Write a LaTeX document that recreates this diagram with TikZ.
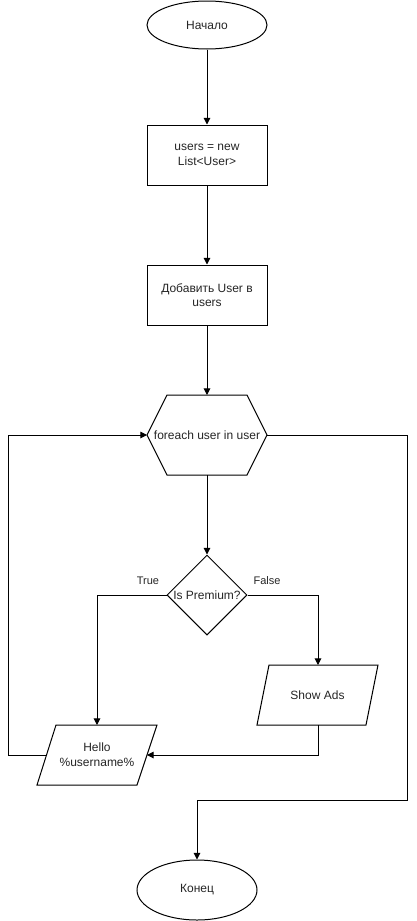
\documentclass[tikz,border=0pt]{standalone}
\usepackage{fontspec}
\setmainfont{Liberation Sans}
\usetikzlibrary{shapes.geometric,arrows.meta}
\begin{document}
\begin{tikzpicture}[x=0.75pt,y=-0.75pt,
  outline/.style={draw=black, line width=0.75pt},
  boxtext/.style={font=\fontsize{9}{11}\selectfont, align=center, text=black!85},
  edgetext/.style={font=\fontsize{8.25}{10}\selectfont, text=black!85},
  flow/.style={draw=black, line width=0.75pt, -{Triangle[length=5pt,width=5pt]}}]
\useasboundingbox (0,0) rectangle (417,921);
\fill[white] (0,0) rectangle (417,921);

% start / end terminals
\node[ellipse, outline, minimum width=90pt, minimum height=36pt, inner sep=0pt, boxtext] (start) at (207,25) {Начало};
\node[ellipse, outline, minimum width=90pt, minimum height=45pt, inner sep=0pt, boxtext] (stop) at (197,890) {Конец};

% process steps
\node[rectangle, outline, minimum width=90pt, minimum height=45pt, boxtext] (init) at (207,155) {users = new\\List<User>};
\node[rectangle, outline, minimum width=90pt, minimum height=45pt, boxtext] (add) at (207,295) {Добавить User в\\users};

% loop header (hexagon)
\draw[outline] (147,435) -- (167,395) -- (247,395) -- (267,435) -- (247,475) -- (167,475) -- cycle;
\node[boxtext] (loop) at (207,435) {foreach user in user};
\coordinate (loopN) at (207,395);
\coordinate (loopS) at (207,475);
\coordinate (loopW) at (147,435);
\coordinate (loopE) at (267,435);

% decision
\node[diamond, outline, minimum width=60pt, minimum height=60pt, inner sep=0pt] (dec) at (207,595) {};
\node[boxtext] (dectext) at (dec.center) {Is Premium?};

% output blocks (parallelograms)
\draw[outline] (269,665) -- (378,665) -- (366,725) -- (257,725) -- cycle;
\node[boxtext] (ads) at (317.5,695) {Show Ads};
\coordinate (adsN) at (318,665);
\coordinate (adsS) at (318,725);

\draw[outline] (56,725) -- (157,725) -- (137,785) -- (37,785) -- cycle;
\node[boxtext] (hello) at (97,755) {Hello\\\%username\%};
\coordinate (helloN) at (97,725);
\coordinate (helloE) at (147,755);
\coordinate (helloW) at (46.5,755);

% bend points of the outer connectors
\coordinate (backL) at (8,755);
\coordinate (exitR) at (407,435);
\coordinate (exitB) at (407,800);

% connectors
\draw[flow] (start) -- (init);
\draw[flow] (init) -- (add);
\draw[flow] (add) -- (loopN);
\draw[flow] (loopS) -- (dec.north);
\draw[flow] (dec.west) -| (helloN);
\draw[flow] (dec.east) -| (adsN);
\draw[flow] (adsS) |- (helloE);
\draw[flow] (helloW) -- (backL) |- (loopW);
\draw[flow] (loopE) -- (exitR) -- (exitB) -| (stop.north);

% branch labels
\node[edgetext] (ltrue) at (148,581) {True};
\node[edgetext] (lfalse) at (267,581) {False};
\end{tikzpicture}
\end{document}
